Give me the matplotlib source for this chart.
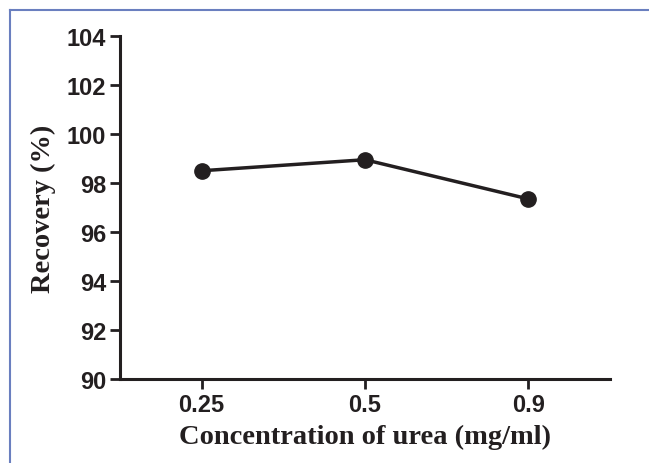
import matplotlib
matplotlib.use('Agg')
import matplotlib.pyplot as plt
from matplotlib.lines import Line2D

# data
categories = ['0.25', '0.5', '0.9']
recovery = [98.5, 98.95, 97.35]
yticks = [90, 92, 94, 96, 98, 100, 102, 104]

W, H = 649, 464
fig = plt.figure(figsize=(W / 100, H / 100), dpi=100)
ax = fig.add_axes([120 / W, 1 - 380 / H, (610 - 120) / W, (380 - 37) / H])

x = list(range(len(categories)))
ax.plot(x, recovery, color='#231f20', linewidth=2.5, marker='o', markersize=11)

ax.set_xlim(-0.5, 2.5)
ax.set_ylim(90, 104)
ax.set_xticks(x)
ax.set_xticklabels(categories)
ax.set_yticks(yticks)

for s in ['top', 'right']:
    ax.spines[s].set_visible(False)
for s in ['left', 'bottom']:
    ax.spines[s].set_linewidth(2.2)
    ax.spines[s].set_color('#231f20')
ax.tick_params(length=7, width=2, color='#231f20', pad=3)
for lab in ax.get_xticklabels() + ax.get_yticklabels():
    lab.set_fontfamily('Liberation Sans')
    lab.set_fontweight('bold')
    lab.set_fontsize(17)
    lab.set_color('#231f20')

ax.set_xlabel('Concentration of urea (mg/ml)', fontfamily='Liberation Serif',
              fontweight='bold', fontsize=20.5, color='#231f20', labelpad=6)
ax.set_ylabel('Recovery (%)', fontfamily='Liberation Serif',
              fontweight='bold', fontsize=20.5, color='#231f20', labelpad=8)

# blue frame of the page
bc = '#6a7fbf'
fig.add_artist(Line2D([10 / W, 10 / W], [0, 1 - 11 / H], transform=fig.transFigure, color=bc, lw=1.5))
fig.add_artist(Line2D([10 / W, 1], [1 - 11 / H, 1 - 11 / H], transform=fig.transFigure, color=bc, lw=1.5))

fig.savefig('out.png', dpi=100)
